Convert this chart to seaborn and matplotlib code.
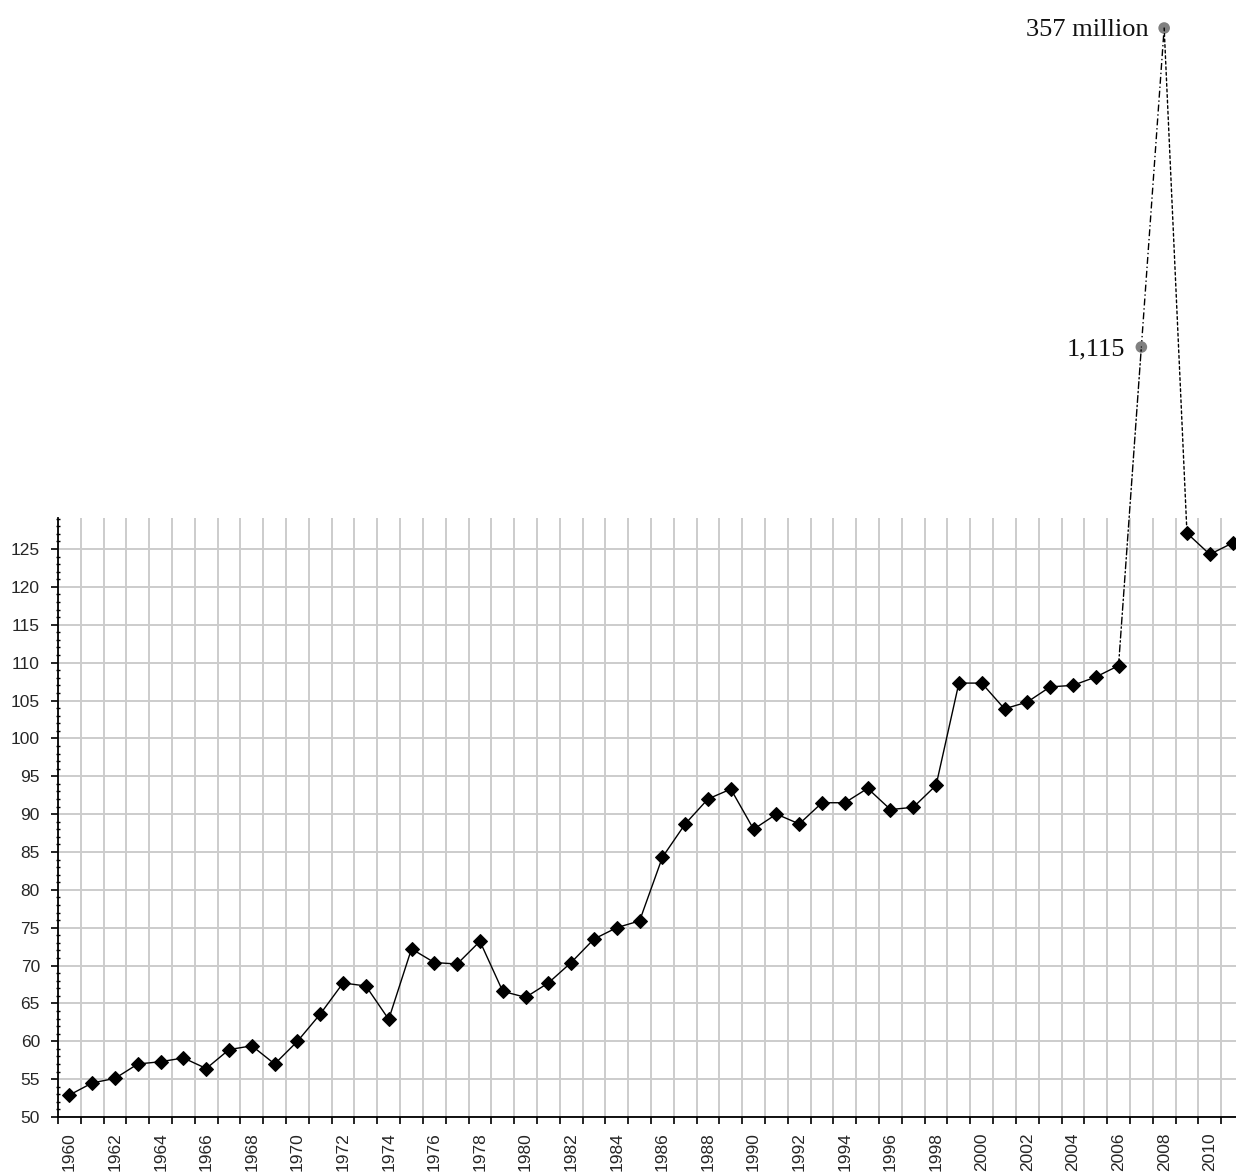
import numpy as np
import pandas as pd
import matplotlib
matplotlib.use("Agg")
import matplotlib.pyplot as plt
import seaborn as sns
from matplotlib.patches import ConnectionPatch
from matplotlib.ticker import FixedLocator, FixedFormatter, NullFormatter, MultipleLocator

# ---------------- data ----------------
years = list(range(1960, 2012))
values = [52.9, 54.5, 55.1, 57.0, 57.3, 57.8, 56.4, 58.9, 59.4, 57.0,
          60.0, 63.6, 67.7, 67.3, 62.9, 72.2, 70.4, 70.2, 73.2, 66.6,
          65.8, 67.7, 70.4, 73.5, 75.0, 75.9, 84.3, 88.7, 92.0, 93.3,
          88.0, 90.0, 88.7, 91.5, 91.5, 93.4, 90.6, 90.9, 93.8, 107.3,
          107.3, 103.9, 104.8, 106.8, 107.0, 108.1, 109.6, None, None, 127.1,
          124.3, 125.8]
outlier_years = [2007, 2008]
outlier_values = [1115, 357e6]
outlier_labels = ["1,115", "357 million"]
label_years = list(range(1960, 2011, 2))
y_ticks = list(range(50, 130, 5))

# ---------------- styling ----------------
sns.set_style("white")
plt.rcParams['font.family'] = ['Liberation Sans', 'DejaVu Sans']

W, H = 1236, 1172
fig = plt.figure(figsize=(W / 100, H / 100), dpi=100)
left_px, right_px, top_px, bottom_px = 58, 1236, 518, 1117
ax = fig.add_axes([left_px / W, (H - bottom_px) / H,
                   (right_px - left_px) / W, (bottom_px - top_px) / H])
ax2 = fig.add_axes([left_px / W, (H - top_px) / H,
                    (right_px - left_px) / W, top_px / H])

xlo, xhi = 1959.5, 2011.15
ylo, yhi = 50, 129.1

# main series, split into two segments (the outliers are drawn separately)
df = pd.DataFrame({"year": years, "value": values})
df = df.dropna().copy()
df["segment"] = np.where(df["year"] <= 2006, 0, 1)
sns.lineplot(data=df, x="year", y="value", units="segment", estimator=None,
             color="black", linewidth=1.0, marker="D", markersize=7,
             markeredgecolor="black", markerfacecolor="black", ax=ax,
             zorder=5, clip_on=False)

ax.set_xlim(xlo, xhi)
ax.set_ylim(ylo, yhi)
ax.set_xlabel("")
ax.set_ylabel("")

# x axis: tick marks / grid at year boundaries, labels at even years
ax.xaxis.set_major_locator(FixedLocator(np.arange(1959.5, 2011.6, 1.0)))
ax.xaxis.set_major_formatter(NullFormatter())
ax.xaxis.set_minor_locator(FixedLocator(label_years))
ax.xaxis.set_minor_formatter(FixedFormatter([str(y) for y in label_years]))
ax.tick_params(axis="x", which="major", length=5, width=1.2, color="black",
               direction="out", bottom=True)
ax.tick_params(axis="x", which="minor", length=0, labelsize=12.5, pad=11,
               labelrotation=90, bottom=True, labelbottom=True)

# y axis
ax.yaxis.set_major_locator(FixedLocator(y_ticks))
ax.yaxis.set_minor_locator(MultipleLocator(1))
ax.tick_params(axis="y", which="major", length=5, width=1.2, color="black",
               direction="out", labelsize=12.5, pad=8, left=True)
ax.tick_params(axis="y", which="minor", length=3, width=1.0, color="black",
               direction="inout", left=True)

ax.grid(axis="x", which="major", color="#cccccc", linewidth=1.4)
ax.grid(axis="y", which="major", color="#cccccc", linewidth=1.4)
ax.grid(axis="x", which="minor", visible=False)
ax.set_axisbelow(True)

for s in ["top", "right"]:
    ax.spines[s].set_visible(False)
for s in ["left", "bottom"]:
    ax.spines[s].set_color("black")
    ax.spines[s].set_linewidth(1.3)
    ax.spines[s].set_zorder(6)

# overlay axes for the off-scale outliers (log scale)
ax2.set_xlim(xlo, xhi)
ax2.set_yscale("log")
ax2.set_ylim(1.248, 1.087e9)
ax2.axis("off")
ax2.patch.set_alpha(0)

dash = (0, (5, 2, 1, 2))
ax2.plot(outlier_years, outlier_values, color="black", linewidth=1.0,
         linestyle=dash, clip_on=False, zorder=3)
v2006 = df.loc[df["year"] == 2006, "value"].iloc[0]
v2009 = df.loc[df["year"] == 2009, "value"].iloc[0]
con1 = ConnectionPatch(xyA=(2006, v2006), coordsA=ax.transData,
                       xyB=(outlier_years[0], outlier_values[0]), coordsB=ax2.transData,
                       color="black", linewidth=1.0, linestyle=dash, zorder=3)
con2 = ConnectionPatch(xyA=(outlier_years[1], outlier_values[1]), coordsA=ax2.transData,
                       xyB=(2009, v2009), coordsB=ax.transData,
                       color="black", linewidth=1.0, linestyle=(0, (2, 2)), zorder=3)
fig.add_artist(con1)
fig.add_artist(con2)

odf = pd.DataFrame({"year": outlier_years, "value": outlier_values})
sns.scatterplot(data=odf, x="year", y="value", color="#808080", s=70,
                edgecolor="none", ax=ax2, zorder=6, clip_on=False)
ax2.set_xlabel("")
ax2.set_ylabel("")

for xv, yv, lab in zip(outlier_years, outlier_values, outlier_labels):
    ax2.annotate(lab, xy=(xv, yv), xytext=(-16, -2), textcoords="offset pixels",
                 ha="right", va="center", fontsize=19,
                 family=["Liberation Serif", "DejaVu Serif"], color="#111111")

fig.savefig("out.png", dpi=100)
